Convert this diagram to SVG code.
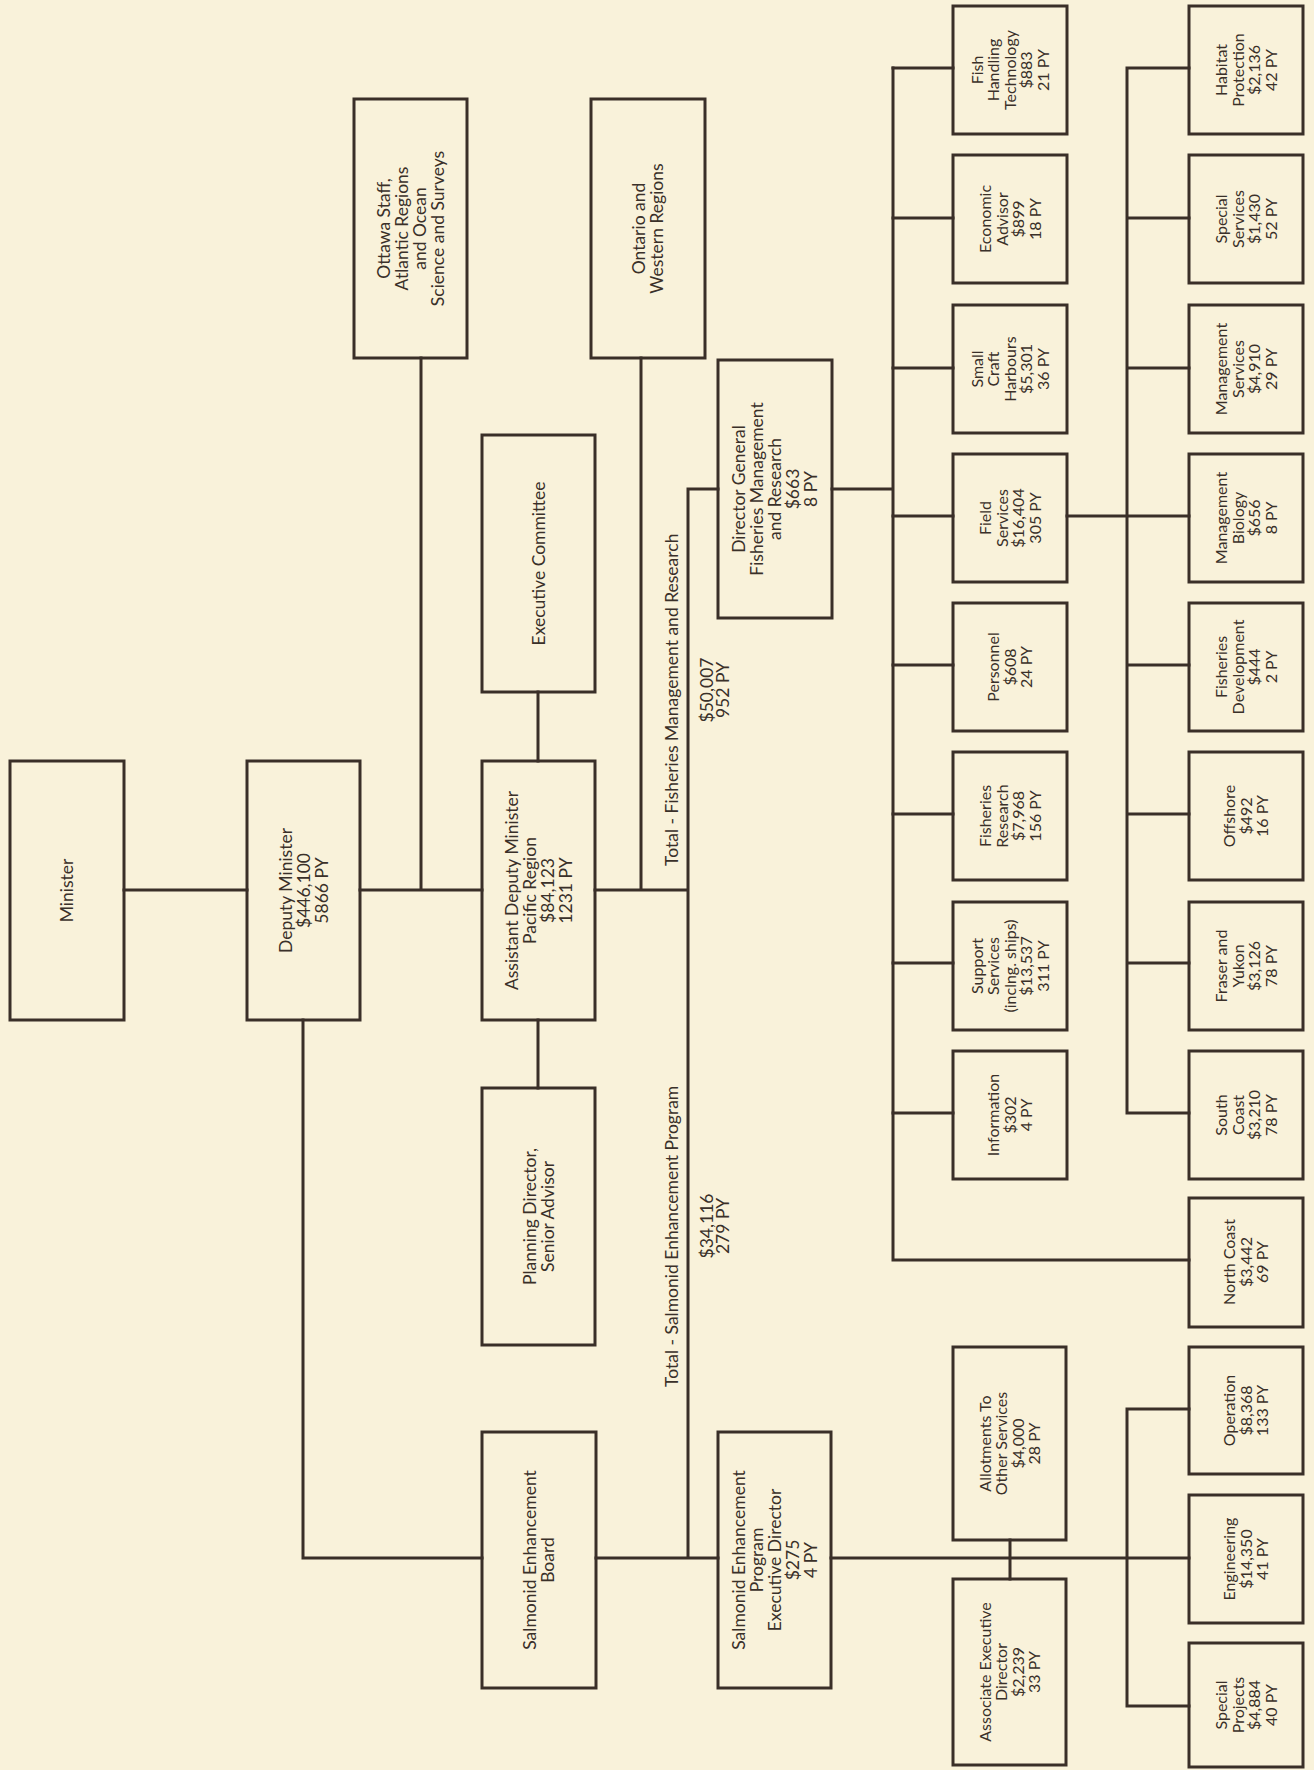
<svg xmlns="http://www.w3.org/2000/svg" width="1314" height="1770" viewBox="0 0 1314 1770">
<style>
.bx{fill:none;stroke:#3a2f28;stroke-width:3}
.ln{fill:none;stroke:#3a2f28;stroke-width:3;stroke-linecap:square}
.t{font-family:Lato,"Liberation Sans",sans-serif;font-size:17.5px;fill:#3a3029;text-anchor:middle}
.s{font-family:Lato,"Liberation Sans",sans-serif;font-size:16px;fill:#3a3029;text-anchor:middle}
.l{font-family:Lato,"Liberation Sans",sans-serif;font-size:17.5px;fill:#3a3029}
</style>
<rect x="0" y="0" width="1314" height="1770" fill="#f9f2da"/>
<g id="connectors">
<path class="ln" d="M124,890H247M360,890H482M421,358V890M303,1020V1558H482M538,692V761M538,1020V1088M595,890H688M641,358V890M688,489V1558M688,489H718M596,1558H718M832,489H893M893,68V1260H1189"/>
<path class="ln" d="M893,68H953M893,218H953M893,368H953M893,516H953M893,665H953M893,814H953M893,963H953M893,1113H953"/>
<path class="ln" d="M1127,68V1113M1127,68H1189M1127,218H1189M1127,368H1189M1067,516H1189M1127,665H1189M1127,814H1189M1127,963H1189M1127,1113H1189"/>
<path class="ln" d="M831,1558H1189M1010,1540V1579M1127,1409V1706M1127,1409H1189M1127,1706H1189"/>
</g>
<g id="labels">
<text class="l" transform="translate(678,866) rotate(-90)">Total - Fisheries Management and Research</text>
<text class="t" transform="translate(715,690) rotate(-90)"><tspan x="0" y="-2">$50,007</tspan><tspan x="0" y="14">952 PY</tspan></text>
<text class="l" transform="translate(678,1387) rotate(-90)">Total - Salmonid Enhancement Program</text>
<text class="t" transform="translate(715,1226) rotate(-90)"><tspan x="0" y="-2">$34,116</tspan><tspan x="0" y="14">279 PY</tspan></text>
</g>
<g id="minister"><rect class="bx" x="10" y="761" width="114" height="259"/><text class="t" transform="translate(67,890.5) rotate(-90)"><tspan x="0" y="6">Minister</tspan></text></g>
<g id="deputy"><rect class="bx" x="247" y="761" width="113" height="259"/><text class="t" transform="translate(303.5,890.5) rotate(-90)"><tspan x="0" y="-12">Deputy Minister</tspan><tspan x="0" y="6">$446,100</tspan><tspan x="0" y="24">5866 PY</tspan></text></g>
<g id="ottawa"><rect class="bx" x="354" y="99" width="113" height="259"/><text class="t" transform="translate(410.5,228.5) rotate(-90)"><tspan x="0" y="-21">Ottawa Staff,</tspan><tspan x="0" y="-3">Atlantic Regions</tspan><tspan x="0" y="15">and Ocean</tspan><tspan x="0" y="33">Science and Surveys</tspan></text></g>
<g id="adm"><rect class="bx" x="482" y="761" width="113" height="259"/><text class="t" transform="translate(538.5,890.5) rotate(-90)"><tspan x="0" y="-21">Assistant Deputy Minister</tspan><tspan x="0" y="-3">Pacific Region</tspan><tspan x="0" y="15">$84,123</tspan><tspan x="0" y="33">1231 PY</tspan></text></g>
<g id="execcom"><rect class="bx" x="482" y="435" width="113" height="257"/><text class="t" transform="translate(538.5,563.5) rotate(-90)"><tspan x="0" y="6">Executive Committee</tspan></text></g>
<g id="planning"><rect class="bx" x="482" y="1088" width="113" height="257"/><text class="t" transform="translate(538.5,1216.5) rotate(-90)"><tspan x="0" y="-3">Planning Director,</tspan><tspan x="0" y="15">Senior Advisor</tspan></text></g>
<g id="seb"><rect class="bx" x="482" y="1432" width="114" height="256"/><text class="t" transform="translate(539,1560) rotate(-90)"><tspan x="0" y="-3">Salmonid Enhancement</tspan><tspan x="0" y="15">Board</tspan></text></g>
<g id="ontario"><rect class="bx" x="591" y="99" width="114" height="259"/><text class="t" transform="translate(648,228.5) rotate(-90)"><tspan x="0" y="-3">Ontario and</tspan><tspan x="0" y="15">Western Regions</tspan></text></g>
<g id="dg"><rect class="bx" x="718" y="360" width="114" height="258"/><text class="t" transform="translate(775,489) rotate(-90)"><tspan x="0" y="-30">Director General</tspan><tspan x="0" y="-12">Fisheries Management</tspan><tspan x="0" y="6">and Research</tspan><tspan x="0" y="24">$663</tspan><tspan x="0" y="42">8 PY</tspan></text></g>
<g id="sep"><rect class="bx" x="718" y="1432" width="113" height="256"/><text class="t" transform="translate(774.5,1560) rotate(-90)"><tspan x="0" y="-30">Salmonid Enhancement</tspan><tspan x="0" y="-12">Program</tspan><tspan x="0" y="6">Executive Director</tspan><tspan x="0" y="24">$275</tspan><tspan x="0" y="42">4 PY</tspan></text></g>
<g id="fish"><rect class="bx" x="953" y="6" width="114" height="128"/><text class="s" transform="translate(1010,70) rotate(-90)"><tspan x="0" y="-27.5">Fish</tspan><tspan x="0" y="-11">Handling</tspan><tspan x="0" y="5.5">Technology</tspan><tspan x="0" y="22">$883</tspan><tspan x="0" y="38.5">21 PY</tspan></text></g>
<g id="econ"><rect class="bx" x="953" y="155" width="114" height="128"/><text class="s" transform="translate(1010,219) rotate(-90)"><tspan x="0" y="-19">Economic</tspan><tspan x="0" y="-2.5">Advisor</tspan><tspan x="0" y="14">$899</tspan><tspan x="0" y="30.5">18 PY</tspan></text></g>
<g id="smallcraft"><rect class="bx" x="953" y="305" width="114" height="128"/><text class="s" transform="translate(1010,369) rotate(-90)"><tspan x="0" y="-27.5">Small</tspan><tspan x="0" y="-11">Craft</tspan><tspan x="0" y="5.5">Harbours</tspan><tspan x="0" y="22">$5,301</tspan><tspan x="0" y="38.5">36 PY</tspan></text></g>
<g id="field"><rect class="bx" x="953" y="454" width="114" height="128"/><text class="s" transform="translate(1010,518) rotate(-90)"><tspan x="0" y="-19">Field</tspan><tspan x="0" y="-2.5">Services</tspan><tspan x="0" y="14">$16,404</tspan><tspan x="0" y="30.5">305 PY</tspan></text></g>
<g id="personnel"><rect class="bx" x="953" y="603" width="114" height="128"/><text class="s" transform="translate(1010,667) rotate(-90)"><tspan x="0" y="-11">Personnel</tspan><tspan x="0" y="5.5">$608</tspan><tspan x="0" y="22">24 PY</tspan></text></g>
<g id="fishres"><rect class="bx" x="953" y="752" width="114" height="128"/><text class="s" transform="translate(1010,816) rotate(-90)"><tspan x="0" y="-19">Fisheries</tspan><tspan x="0" y="-2.5">Research</tspan><tspan x="0" y="14">$7,968</tspan><tspan x="0" y="30.5">156 PY</tspan></text></g>
<g id="support"><rect class="bx" x="953" y="902" width="114" height="128"/><text class="s" transform="translate(1010,966) rotate(-90)"><tspan x="0" y="-27.5">Support</tspan><tspan x="0" y="-11">Services</tspan><tspan x="0" y="5.5">(inclng. ships)</tspan><tspan x="0" y="22">$13,537</tspan><tspan x="0" y="38.5">311 PY</tspan></text></g>
<g id="information"><rect class="bx" x="953" y="1051" width="114" height="128"/><text class="s" transform="translate(1010,1115) rotate(-90)"><tspan x="0" y="-11">Information</tspan><tspan x="0" y="5.5">$302</tspan><tspan x="0" y="22">4 PY</tspan></text></g>
<g id="habitat"><rect class="bx" x="1189" y="6" width="114" height="128"/><text class="s" transform="translate(1246,70) rotate(-90)"><tspan x="0" y="-19">Habitat</tspan><tspan x="0" y="-2.5">Protection</tspan><tspan x="0" y="14">$2,136</tspan><tspan x="0" y="30.5">42 PY</tspan></text></g>
<g id="specserv"><rect class="bx" x="1189" y="155" width="114" height="128"/><text class="s" transform="translate(1246,219) rotate(-90)"><tspan x="0" y="-19">Special</tspan><tspan x="0" y="-2.5">Services</tspan><tspan x="0" y="14">$1,430</tspan><tspan x="0" y="30.5">52 PY</tspan></text></g>
<g id="mgmtserv"><rect class="bx" x="1189" y="305" width="114" height="128"/><text class="s" transform="translate(1246,369) rotate(-90)"><tspan x="0" y="-19">Management</tspan><tspan x="0" y="-2.5">Services</tspan><tspan x="0" y="14">$4,910</tspan><tspan x="0" y="30.5">29 PY</tspan></text></g>
<g id="mgmtbio"><rect class="bx" x="1189" y="454" width="114" height="128"/><text class="s" transform="translate(1246,518) rotate(-90)"><tspan x="0" y="-19">Management</tspan><tspan x="0" y="-2.5">Biology</tspan><tspan x="0" y="14">$656</tspan><tspan x="0" y="30.5">8 PY</tspan></text></g>
<g id="fishdev"><rect class="bx" x="1189" y="603" width="114" height="128"/><text class="s" transform="translate(1246,667) rotate(-90)"><tspan x="0" y="-19">Fisheries</tspan><tspan x="0" y="-2.5">Development</tspan><tspan x="0" y="14">$444</tspan><tspan x="0" y="30.5">2 PY</tspan></text></g>
<g id="offshore"><rect class="bx" x="1189" y="752" width="114" height="128"/><text class="s" transform="translate(1246,816) rotate(-90)"><tspan x="0" y="-11">Offshore</tspan><tspan x="0" y="5.5">$492</tspan><tspan x="0" y="22">16 PY</tspan></text></g>
<g id="fraser"><rect class="bx" x="1189" y="902" width="114" height="128"/><text class="s" transform="translate(1246,966) rotate(-90)"><tspan x="0" y="-19">Fraser and</tspan><tspan x="0" y="-2.5">Yukon</tspan><tspan x="0" y="14">$3,126</tspan><tspan x="0" y="30.5">78 PY</tspan></text></g>
<g id="southcoast"><rect class="bx" x="1189" y="1051" width="114" height="128"/><text class="s" transform="translate(1246,1115) rotate(-90)"><tspan x="0" y="-19">South</tspan><tspan x="0" y="-2.5">Coast</tspan><tspan x="0" y="14">$3,210</tspan><tspan x="0" y="30.5">78 PY</tspan></text></g>
<g id="northcoast"><rect class="bx" x="1189" y="1198" width="114" height="129"/><text class="s" transform="translate(1246,1262) rotate(-90)"><tspan x="0" y="-11">North Coast</tspan><tspan x="0" y="5.5">$3,442</tspan><tspan x="0" y="22">69 PY</tspan></text></g>
<g id="allotments"><rect class="bx" x="953" y="1347" width="113" height="193"/><text class="s" transform="translate(1009.5,1443.5) rotate(-90)"><tspan x="0" y="-19">Allotments To</tspan><tspan x="0" y="-2.5">Other Services</tspan><tspan x="0" y="14">$4,000</tspan><tspan x="0" y="30.5">28 PY</tspan></text></g>
<g id="assoc"><rect class="bx" x="953" y="1579" width="113" height="186"/><text class="s" transform="translate(1009.5,1672) rotate(-90)"><tspan x="0" y="-19">Associate Executive</tspan><tspan x="0" y="-2.5">Director</tspan><tspan x="0" y="14">$2,239</tspan><tspan x="0" y="30.5">33 PY</tspan></text></g>
<g id="operation"><rect class="bx" x="1189" y="1347" width="114" height="127"/><text class="s" transform="translate(1246,1410.5) rotate(-90)"><tspan x="0" y="-11">Operation</tspan><tspan x="0" y="5.5">$8,368</tspan><tspan x="0" y="22">133 PY</tspan></text></g>
<g id="engineering"><rect class="bx" x="1189" y="1495" width="114" height="128"/><text class="s" transform="translate(1246,1559) rotate(-90)"><tspan x="0" y="-11">Engineering</tspan><tspan x="0" y="5.5">$14,350</tspan><tspan x="0" y="22">41 PY</tspan></text></g>
<g id="specproj"><rect class="bx" x="1189" y="1643" width="114" height="124"/><text class="s" transform="translate(1246,1705) rotate(-90)"><tspan x="0" y="-19">Special</tspan><tspan x="0" y="-2.5">Projects</tspan><tspan x="0" y="14">$4,884</tspan><tspan x="0" y="30.5">40 PY</tspan></text></g>
</svg>
